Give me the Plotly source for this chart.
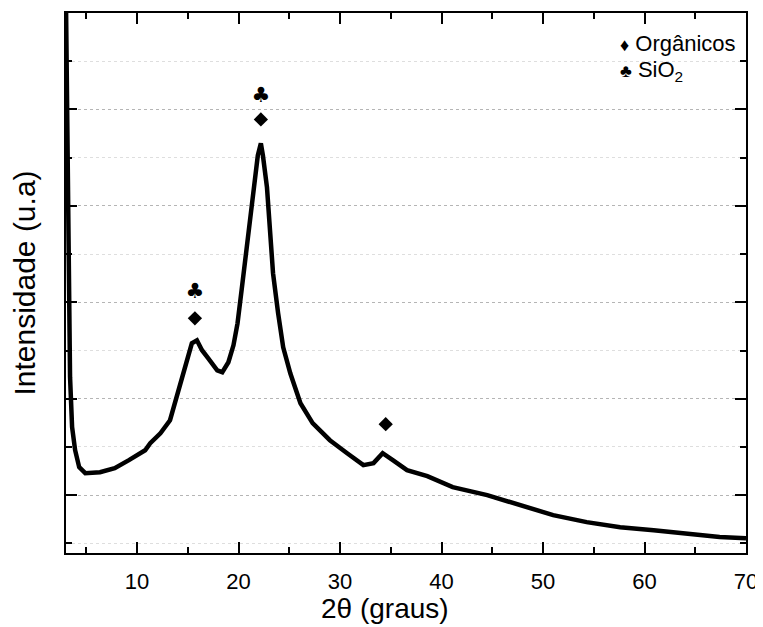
import plotly.graph_objects as go

# XRD pattern (2theta in degrees, intensity in arbitrary units)
two_theta = [3.0, 3.2, 3.4, 3.6, 3.9, 4.3, 4.9, 6.35, 7.8, 9.2, 10.8, 11.3, 12.3, 13.25,
             14.2, 14.9, 15.4, 15.9, 16.4, 17.0, 17.9, 18.4, 19.0, 19.5, 19.9, 20.3,
             20.8, 21.3, 21.6, 21.9, 22.2, 22.4, 22.8, 23.1, 23.4, 23.9, 24.4, 25.1,
             26.1, 27.3, 29.0, 30.7, 32.3, 33.3, 34.2, 35.2, 36.6, 38.6, 41.1, 44.5,
             47.7, 51.0, 54.3, 57.6, 60.9, 64.2, 67.4, 70.0]
intensity = [6100, 3953, 2223, 1705, 1466, 1290, 1228, 1238, 1280, 1363, 1466, 1539, 1642, 1777,
             2119, 2399, 2575, 2606, 2503, 2420, 2295, 2275, 2378, 2554, 2782, 3124,
             3570, 3985, 4264, 4523, 4648, 4523, 4192, 3746, 3301, 2886, 2534, 2264,
             1953, 1746, 1570, 1435, 1311, 1332, 1435, 1363, 1259, 1197, 1083, 1000,
             896, 793, 720, 668, 637, 606, 565, 554]

# peak labels
organic_x = [15.7, 22.2, 34.5]
organic_y = [2834, 4896, 1736]
sio2_x = [15.7, 22.2]
sio2_y = [3104, 5135]

legend_labels = ["Orgânicos", "SiO<sub>2</sub>"]
x_title = "2θ (graus)"
y_title = "Intensidade (u.a)"

FONT = "Liberation Sans, Arial, sans-serif"

fig = go.Figure()
fig.add_trace(go.Scatter(x=two_theta, y=intensity, mode="lines",
                         line=dict(color="black", width=4.5), showlegend=False))
fig.add_trace(go.Scatter(x=organic_x, y=organic_y, mode="markers",
                         marker=dict(symbol="diamond", size=11, color="black"),
                         showlegend=False, cliponaxis=False))
fig.add_trace(go.Scatter(x=sio2_x, y=sio2_y, mode="text", text=["♣"] * len(sio2_x),
                         textfont=dict(size=21, color="black", family="DejaVu Sans"),
                         showlegend=False, cliponaxis=False))

fig.add_annotation(xref="paper", yref="paper", x=0.812, y=0.943, xanchor="left", yanchor="middle",
                   text="<span style='font-size:18px'>♦</span> " + legend_labels[0],
                   showarrow=False, font=dict(size=22, color="black", family=FONT))
fig.add_annotation(xref="paper", yref="paper", x=0.812, y=0.892, xanchor="left", yanchor="middle",
                   text="<span style='font-size:18px'>♣</span> " + legend_labels[1],
                   showarrow=False, font=dict(size=22, color="black", family=FONT))

# x-axis title (sits slightly left of the plot centre in the reference)
fig.add_annotation(xref="paper", yref="paper", x=0.469, y=-0.102, xanchor="center", yanchor="middle",
                   text=x_title, showarrow=False, font=dict(size=28, color="black", family=FONT))

# the page body adds an 8px offset, so the figure is 8px smaller than the window
fig.update_layout(
    width=755, height=619,
    margin=dict(l=58, r=17, t=5, b=74),
    paper_bgcolor="white", plot_bgcolor="white",
    font=dict(family=FONT, color="black"),
)
fig.update_xaxes(
    range=[3, 70], showline=True, linecolor="black", linewidth=2, mirror="allticks",
    ticks="inside", ticklen=11, tickwidth=2, tickcolor="black", dtick=10, tick0=0,
    minor=dict(dtick=5, ticklen=6, tickwidth=2, tickcolor="black", ticks="inside"),
    showgrid=False, zeroline=False, automargin=False,
    tickfont=dict(size=22, family=FONT), ticklabelstandoff=8,
)
fig.update_yaxes(
    range=[400, 6000], showline=True, linecolor="black", linewidth=2, mirror="allticks",
    ticks="inside", ticklen=11, tickwidth=2, tickcolor="black", dtick=1000, tick0=0,
    showticklabels=False, automargin=False,
    showgrid=True, gridcolor="#b5b5b5", griddash="dot", gridwidth=1,
    minor=dict(dtick=500, ticklen=6, tickwidth=2, tickcolor="black", ticks="inside",
               showgrid=True, gridcolor="#dedede", griddash="dot", gridwidth=1),
    zeroline=False,
    title=dict(text=y_title, font=dict(size=30, family=FONT), standoff=22),
)

fig.write_html("out.html")
